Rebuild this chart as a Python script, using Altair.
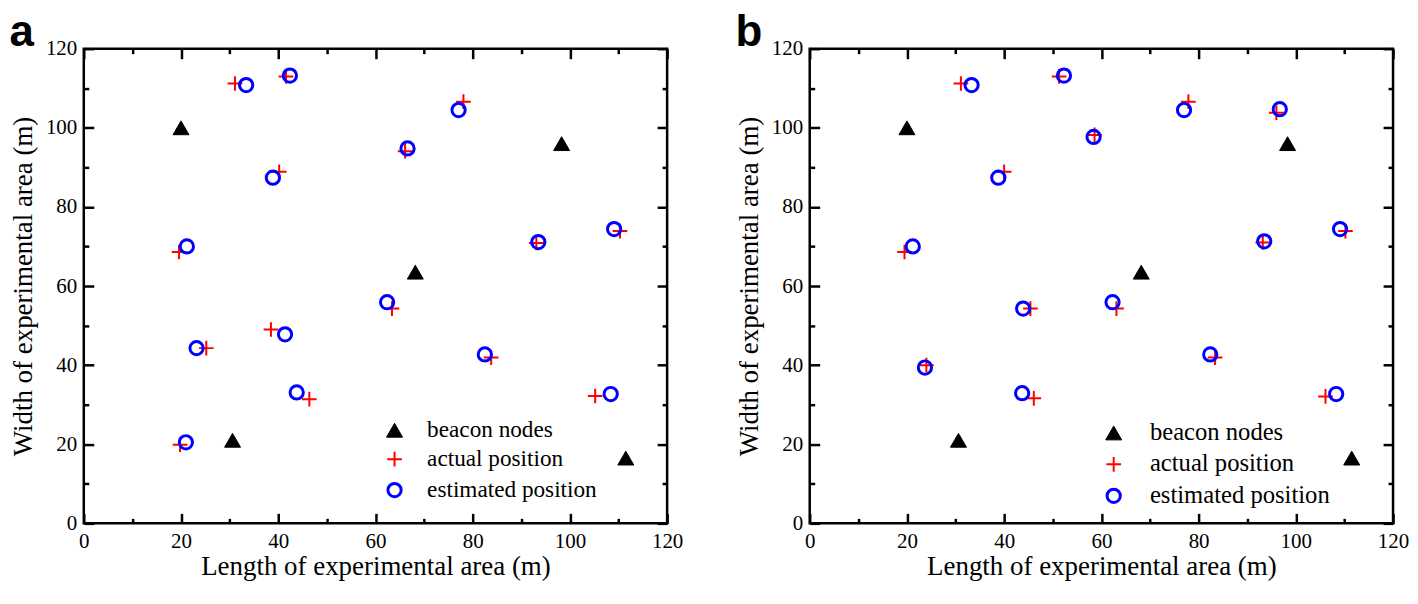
import altair as alt
import pandas as pd

SERIF = "Liberation Serif"
SANS = "Liberation Sans"

# beacon nodes (same in both panels)
beacon_x = [20.0, 98.3, 68.2, 30.6, 111.5]
beacon_y = [100.0, 96.0, 63.5, 21.0, 16.5]

# panel a
actual_a_x = [31.1, 41.6, 40.2, 19.6, 78.1, 66.1, 93.1, 110.3, 63.4, 83.8, 105.2, 25.2, 38.5, 46.4, 19.8]
actual_a_y = [111.2, 113.0, 88.9, 68.6, 106.6, 94.1, 70.9, 73.9, 54.3, 41.9, 32.2, 44.3, 49.0, 31.4, 19.9]
est_a_x = [33.4, 42.4, 38.9, 21.2, 77.1, 66.6, 93.5, 109.1, 62.4, 82.5, 108.4, 23.2, 41.4, 43.8, 21.0]
est_a_y = [110.8, 113.2, 87.4, 70.0, 104.5, 94.8, 71.1, 74.4, 55.9, 42.7, 32.7, 44.3, 47.8, 33.1, 20.5]

# panel b
actual_b_x = [31.1, 51.3, 40.0, 19.5, 77.9, 58.6, 96.0, 93.2, 110.2, 45.4, 63.1, 24.0, 46.1, 83.4, 106.1]
actual_b_y = [111.2, 113.0, 88.9, 68.6, 106.6, 98.2, 103.8, 71.0, 73.9, 54.3, 54.3, 40.0, 31.6, 41.9, 32.1]
est_b_x = [33.3, 52.3, 38.8, 21.2, 77.0, 58.4, 96.7, 93.5, 109.1, 43.9, 62.3, 23.7, 43.7, 82.4, 108.3]
est_b_y = [110.8, 113.2, 87.4, 70.0, 104.5, 97.7, 104.7, 71.3, 74.4, 54.3, 55.9, 39.4, 32.9, 42.7, 32.7]

SERIES = ["beacon nodes", "actual position", "estimated position"]
major_ticks = [0, 20, 40, 60, 80, 100, 120]
minor_ticks = [10, 30, 50, 70, 90, 110]

PLUS = "M-1,0L1,0M0,-1L0,1"


def make_df(ax, ay, ex, ey):
    rows = []
    for x, y in zip(ax, ay):
        rows.append({"x": x, "y": y, "series": "actual position"})
    for x, y in zip(ex, ey):
        rows.append({"x": x, "y": y, "series": "estimated position"})
    for x, y in zip(beacon_x, beacon_y):
        rows.append({"x": x, "y": y, "series": "beacon nodes"})
    return pd.DataFrame(rows)


def tick_axis(orient, values, size):
    return alt.Axis(orient=orient, values=values, tickSize=size, offset=-size,
                    labels=False, domain=False, grid=False, title=None,
                    ticks=True, tickColor="black", tickWidth=2.5,
                    minExtent=0, maxExtent=0)


def panel(df, letter, lx, ly, lfs, loff, rowpad):
    xs = alt.Scale(domain=[0, 120], nice=False, zero=False)
    ys = alt.Scale(domain=[0, 120], nice=False, zero=False)
    legend = alt.Legend(orient="none", legendX=lx, legendY=ly, title=None,
                        labelFont=SERIF, labelFontSize=lfs, labelColor="black",
                        labelOffset=loff, rowPadding=rowpad, padding=0, labelLimit=500)
    xmain = alt.Axis(orient="bottom", values=major_ticks, ticks=False, domain=False,
                     grid=False, labelFont=SERIF, labelFontSize=21, labelColor="black",
                     labelPadding=7, labelFlush=False, title="Length of experimental area (m)",
                     titleFont=SERIF, titleFontSize=27, titleFontWeight="normal",
                     titleColor="black", titlePadding=2)
    ymain = alt.Axis(orient="left", values=major_ticks, ticks=False, domain=False,
                     grid=False, labelFont=SERIF, labelFontSize=21, labelColor="black",
                     labelPadding=7, labelFlush=False, title="Width of experimental area (m)",
                     titleFont=SERIF, titleFontSize=27, titleFontWeight="normal",
                     titleColor="black", titlePadding=8)
    base = alt.Chart(df)
    pts = base.mark_point(opacity=1).encode(
        x=alt.X("x:Q", scale=xs, axis=xmain),
        y=alt.Y("y:Q", scale=ys, axis=ymain),
        shape=alt.Shape("series:N", scale=alt.Scale(domain=SERIES, range=["triangle-up", PLUS, "circle"]), legend=legend),
        fill=alt.Fill("series:N", scale=alt.Scale(domain=SERIES, range=["black", "transparent", "transparent"]), legend=legend),
        stroke=alt.Stroke("series:N", scale=alt.Scale(domain=SERIES, range=["black", "#ff0000", "#0000ff"]), legend=legend),
        size=alt.Size("series:N", scale=alt.Scale(domain=SERIES, range=[256, 177, 121]), legend=legend),
        strokeWidth=alt.StrokeWidth("series:N", scale=alt.Scale(domain=SERIES, range=[1, 3, 3]), legend=legend),
        order=alt.Order("series:N", sort="ascending"),
    )
    layers = [pts]
    for xo, yo, vals, sz in [("bottom", "left", major_ticks, 10), ("bottom", "left", minor_ticks, 5),
                             ("top", "right", major_ticks, 10), ("top", "right", minor_ticks, 5)]:
        layers.append(base.mark_point(opacity=0).encode(
            x=alt.X("x:Q", scale=xs, axis=tick_axis(xo, vals, sz)),
            y=alt.Y("y:Q", scale=ys, axis=tick_axis(yo, vals, sz)),
        ))
    return alt.layer(*layers).resolve_axis(x="independent", y="independent").properties(
        width=585, height=476,
        title=alt.TitleParams(letter, anchor="start", frame="bounds", font=SANS, fontSize=44,
                              fontWeight="bold", color="black", offset=-17),
    )


pa = panel(make_df(actual_a_x, actual_a_y, est_a_x, est_a_y), "a", 300, 371, 23.3, 21, 5)
pb = panel(make_df(actual_b_x, actual_b_y, est_b_x, est_b_y), "b", 292.5, 373, 24.7, 24, 5.5)

chart = alt.hconcat(pa, pb, spacing=50).resolve_scale(
    shape="independent", fill="independent", stroke="independent", size="independent", strokeWidth="independent"
).resolve_legend(
    shape="independent", fill="independent", stroke="independent", size="independent", strokeWidth="independent"
).properties(padding={"left": 0, "top": 0, "right": 0, "bottom": 0}).configure(
    background="white"
).configure_view(
    stroke="black", strokeWidth=2.5
)

chart.save("out.html", embed_options={"renderer": "svg", "actions": False})
